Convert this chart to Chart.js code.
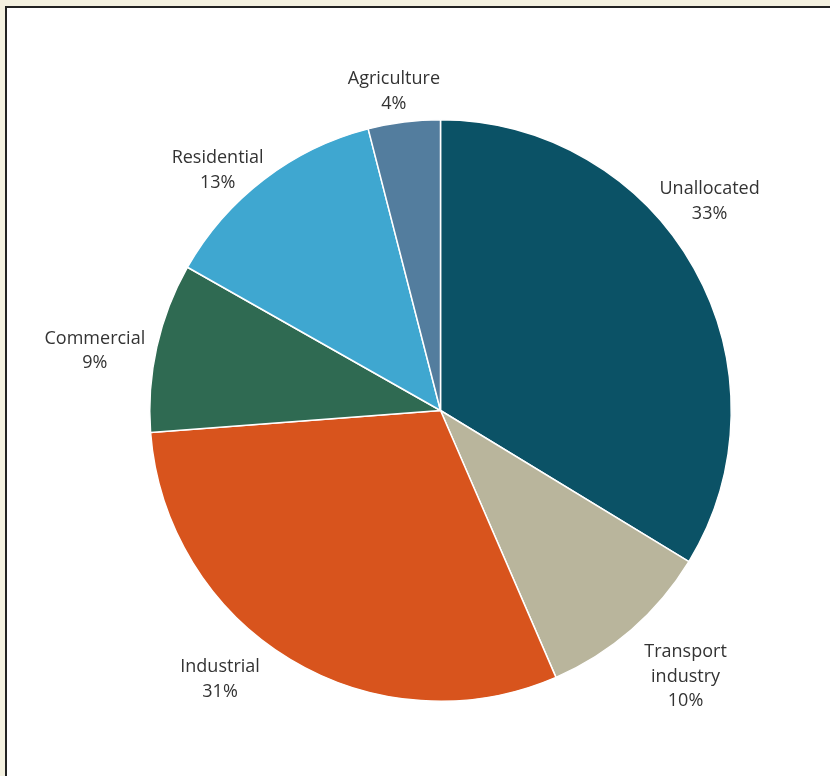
<!DOCTYPE html>
<html>
<head>
<meta charset="utf-8">
<script src="https://cdn.jsdelivr.net/npm/chart.js@4.4.1/dist/chart.umd.min.js"></script>
<style>
  html, body { margin: 0; padding: 0; }
  body {
    width: 830px;
    height: 776px;
    background: #f4f1e0;
    position: relative;
    overflow: hidden;
  }
  .panel {
    position: absolute;
    left: 5px;
    top: 6px;
    right: 0;
    bottom: 0;
    background: #ffffff;
    border-left: 2px solid #222;
    border-top: 2px solid #222;
  }
  #chart {
    position: absolute;
    left: 0;
    top: 0;
  }
</style>
</head>
<body>
<div class="panel"></div>
<canvas id="chart" width="830" height="776"></canvas>
<script>
// Sectors, clockwise from 12 o'clock
const categories = ['Unallocated', 'Transport industry', 'Industrial', 'Commercial', 'Residential', 'Agriculture'];
const shares = [33.7, 9.8, 30.3, 9.4, 12.8, 4.0];
const shareLabels = ['33%', '10%', '31%', '9%', '13%', '4%'];
const labelLines = [
    ['Unallocated'],
    ['Transport', 'industry'],
    ['Industrial'],
    ['Commercial'],
    ['Residential'],
    ['Agriculture']
];
const colors = ['#0b5266', '#b9b59c', '#d8541d', '#2f6a52', '#3fa7d0', '#537d9e'];

// label placement relative to each slice: angle shift (deg) and gap outside the rim (px)
const labelPlace = [
    { shift: -8.5, gap: 50 },
    { shift: -1.6, gap: 71 },
    { shift: 8.2, gap: 57 },
    { shift: -2.8, gap: 60 },
    { shift: -5.4, gap: 37 },
    { shift: -1.1, gap: 32 }
];

const outsideLabels = {
    id: 'outsideLabels',
    afterDatasetsDraw(chart) {
        const ctx = chart.ctx;
        const arcs = chart.getDatasetMeta(0).data;
        ctx.save();
        ctx.font = '18px "Open Sans", sans-serif';
        ctx.fillStyle = '#333333';
        ctx.textAlign = 'center';
        ctx.textBaseline = 'middle';
        const lineH = 24.5;
        arcs.forEach((arc, i) => {
            const p = arc.getProps(['x', 'y', 'startAngle', 'endAngle', 'outerRadius'], true);
            const mid = (p.startAngle + p.endAngle) / 2 + labelPlace[i].shift * Math.PI / 180;
            const r = p.outerRadius + labelPlace[i].gap;
            const cx = p.x + Math.cos(mid) * r;
            const cy = p.y + Math.sin(mid) * r;
            const lines = labelLines[i].concat([shareLabels[i]]);
            const top = cy - (lines.length - 1) * lineH / 2;
            lines.forEach((t, j) => ctx.fillText(t, cx, top + j * lineH));
        });
        ctx.restore();
    }
};

new Chart(document.getElementById('chart'), {
    type: 'pie',
    data: {
        labels: categories,
        datasets: [{
            data: shares,
            backgroundColor: colors,
            borderColor: '#ffffff',
            borderWidth: 1.5,
            hoverOffset: 0
        }]
    },
    options: {
        responsive: false,
        animation: false,
        layout: {
            padding: { left: 149, right: 98, top: 119, bottom: 74 }
        },
        plugins: {
            legend: { display: false },
            tooltip: { enabled: false }
        }
    },
    plugins: [outsideLabels]
});
</script>
</body>
</html>
